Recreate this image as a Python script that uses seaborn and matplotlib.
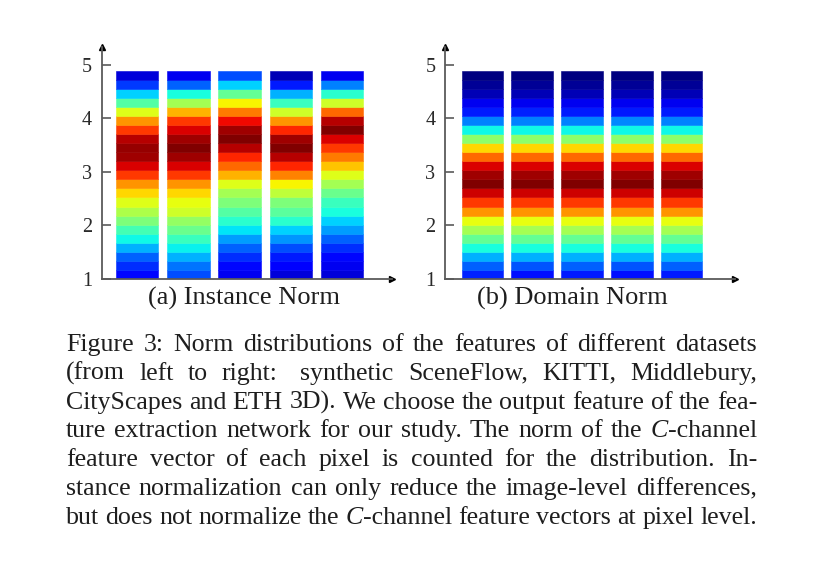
import numpy as np
import matplotlib
matplotlib.use("Agg")
import matplotlib.pyplot as plt
import seaborn as sns

sns.set_style("white")
plt.rcParams["font.family"] = ["Liberation Serif", "DejaVu Serif"]

# ---------------- data ----------------
datasets = ["SceneFlow", "KITTI", "Middlebury", "CityScapes", "ETH 3D"]
y_ticks = [1, 2, 3, 4, 5]
norm_low, norm_high = 1.0, 4.89      # range covered by the norm bins
n_bins = 23

# relative density per norm bin (top bin first), colour-coded with jet
inst_sceneflow  = [0.08, 0.18, 0.33, 0.45, 0.62, 0.75, 0.85, 0.95, 0.98, 0.97, 0.92, 0.85,
                   0.75, 0.68, 0.62, 0.56, 0.50, 0.43, 0.37, 0.30, 0.22, 0.17, 0.13]
inst_kitti      = [0.10, 0.22, 0.38, 0.55, 0.72, 0.85, 0.92, 0.97, 1.00, 0.97, 0.92, 0.85,
                   0.75, 0.68, 0.63, 0.60, 0.53, 0.48, 0.42, 0.36, 0.30, 0.24, 0.20]
inst_middlebury = [0.20, 0.33, 0.47, 0.65, 0.78, 0.90, 0.97, 1.00, 0.95, 0.87, 0.80, 0.72,
                   0.62, 0.55, 0.50, 0.45, 0.40, 0.35, 0.28, 0.22, 0.17, 0.13, 0.10]
inst_cityscapes = [0.05, 0.15, 0.30, 0.42, 0.60, 0.75, 0.87, 0.97, 1.00, 0.95, 0.87, 0.77,
                   0.65, 0.58, 0.50, 0.46, 0.40, 0.33, 0.27, 0.20, 0.15, 0.11, 0.08]
inst_eth3d      = [0.10, 0.25, 0.40, 0.60, 0.80, 0.95, 1.00, 0.92, 0.85, 0.78, 0.70, 0.62,
                   0.55, 0.48, 0.42, 0.38, 0.33, 0.28, 0.22, 0.17, 0.13, 0.10, 0.08]

dom_sceneflow   = [0.00, 0.02, 0.05, 0.10, 0.15, 0.25, 0.37, 0.52, 0.68, 0.80, 0.92, 0.97,
                   1.00, 0.93, 0.85, 0.75, 0.63, 0.55, 0.47, 0.38, 0.30, 0.22, 0.16]
dom_kitti       = [0.00, 0.02, 0.05, 0.10, 0.16, 0.25, 0.37, 0.52, 0.68, 0.80, 0.92, 0.97,
                   1.00, 0.93, 0.85, 0.75, 0.63, 0.55, 0.47, 0.38, 0.30, 0.21, 0.14]
dom_middlebury  = [0.00, 0.02, 0.05, 0.10, 0.15, 0.25, 0.37, 0.52, 0.68, 0.80, 0.92, 0.97,
                   1.00, 0.93, 0.85, 0.75, 0.63, 0.55, 0.47, 0.38, 0.30, 0.22, 0.15]
dom_cityscapes  = [0.00, 0.02, 0.05, 0.10, 0.15, 0.26, 0.37, 0.52, 0.68, 0.80, 0.92, 0.97,
                   1.00, 0.93, 0.85, 0.75, 0.63, 0.55, 0.47, 0.38, 0.30, 0.21, 0.14]
dom_eth3d       = [0.00, 0.02, 0.05, 0.10, 0.15, 0.25, 0.37, 0.52, 0.68, 0.80, 0.92, 0.97,
                   1.00, 0.93, 0.85, 0.75, 0.63, 0.55, 0.47, 0.38, 0.30, 0.22, 0.15]

panel_titles = ["(a) Instance Norm", "(b) Domain Norm"]
instance_series = [inst_sceneflow, inst_kitti, inst_middlebury, inst_cityscapes, inst_eth3d]
domain_series = [dom_sceneflow, dom_kitti, dom_middlebury, dom_cityscapes, dom_eth3d]

caption_lines = [
    "Figure 3: Norm distributions of the features of different datasets",
    "(from left to right:  synthetic SceneFlow, KITTI, Middlebury,",
    "CityScapes and ETH 3D). We choose the output feature of the fea-",
    "ture extraction network for our study. The norm of the *C*-channel",
    "feature vector of each pixel is counted for the distribution. In-",
    "stance normalization can only reduce the image-level differences,",
    "but does not normalize the *C*-channel feature vectors at pixel level.",
]

# ---------------- figure ----------------
W, H = 813, 583
fig = plt.figure(figsize=(W / 100, H / 100), dpi=100)
fig.patch.set_facecolor("white")
cmap = matplotlib.colormaps["jet"]
edges = np.linspace(norm_low, norm_high, n_bins + 1)

axes_px = [  # left, right, top, bottom in pixels ; xlim ; bar width
    (101.7, 391.7, 47, 279, (-0.693, 4.97), 0.826),
    (445.0, 735.0, 47, 279, (-0.754, 5.075), 0.838),
]
AX_COL = "#5a5a5a"

for p, (series, (l, r, t, b, xlim, bw)) in enumerate(zip([instance_series, domain_series], axes_px)):
    ax = fig.add_axes([l / W, (H - b) / H, (r - l) / W, (b - t) / H])
    for i, vals in enumerate(series):
        v = np.array(vals[::-1])  # bottom bin first
        cols = cmap(v)
        ax.bar(np.full(n_bins, i), np.diff(edges), bottom=edges[:-1], width=bw,
               color=cols, edgecolor=cols, linewidth=0.4)
    ax.set_xlim(*xlim)
    ax.set_ylim(1, 5.33)
    ax.set_xticks([])
    ax.set_yticks(y_ticks)
    ax.set_yticklabels([str(v) for v in y_ticks])
    ax.tick_params(axis="y", direction="in", length=6.5, width=1.2, color=AX_COL,
                   labelsize=14.5, pad=7, labelcolor="#2a2a2a", left=True)
    for s in ["top", "right"]:
        ax.spines[s].set_visible(False)
    for s in ["left", "bottom"]:
        ax.spines[s].set_color(AX_COL)
        ax.spines[s].set_linewidth(1.3)
    ax.plot(1, 0, ">", color="black", markersize=5, transform=ax.transAxes, clip_on=False)
    ax.plot(0, 1, "^", color="black", markersize=5, transform=ax.transAxes, clip_on=False)
    ax.set_facecolor("white")

# subtitles
TXT = "#1e1e1e"
for title, cx in zip(panel_titles, [244, 572]):
    fig.text(cx / W, (H - 305) / H, title, ha="center", va="baseline",
             fontsize=19, color=TXT)

# justified caption
renderer = fig.canvas.get_renderer()
x0, x1 = 66, 757
base0, step = 351, 28.8
size = 18.6


def parse_word(w):
    segs = []
    parts = w.split("*")
    for k, part in enumerate(parts):
        if part:
            segs.append((part, "italic" if k % 2 == 1 else "normal"))
    return segs


for li, line in enumerate(caption_lines):
    y = (H - (base0 + li * step)) / H
    raw = line.split(" ")
    words, gaps_w = [], []
    for w in raw:
        if w == "":
            if gaps_w:
                gaps_w[-1] += 0.6
            continue
        words.append(w)
        gaps_w.append(1.0)
    gaps_w = gaps_w[:-1]
    word_objs = []
    total = 0
    for w in words:
        objs = []
        wid = 0
        for txt, style in parse_word(w):
            tobj = fig.text(0, y, txt, fontsize=size, style=style, ha="left",
                            va="baseline", color=TXT)
            ext = tobj.get_window_extent(renderer)
            objs.append((tobj, ext.width))
            wid += ext.width
        word_objs.append((objs, wid))
        total += wid
    free = (x1 - x0) - total
    unit = max(free / sum(gaps_w), 3.5) if gaps_w else 0
    x = x0
    for k, (objs, wid) in enumerate(word_objs):
        xx = x
        for tobj, sw in objs:
            tobj.set_x(xx / W)
            xx += sw
        x += wid
        if k < len(gaps_w):
            x += unit * gaps_w[k]

fig.savefig("out.png", dpi=100, facecolor="white")
